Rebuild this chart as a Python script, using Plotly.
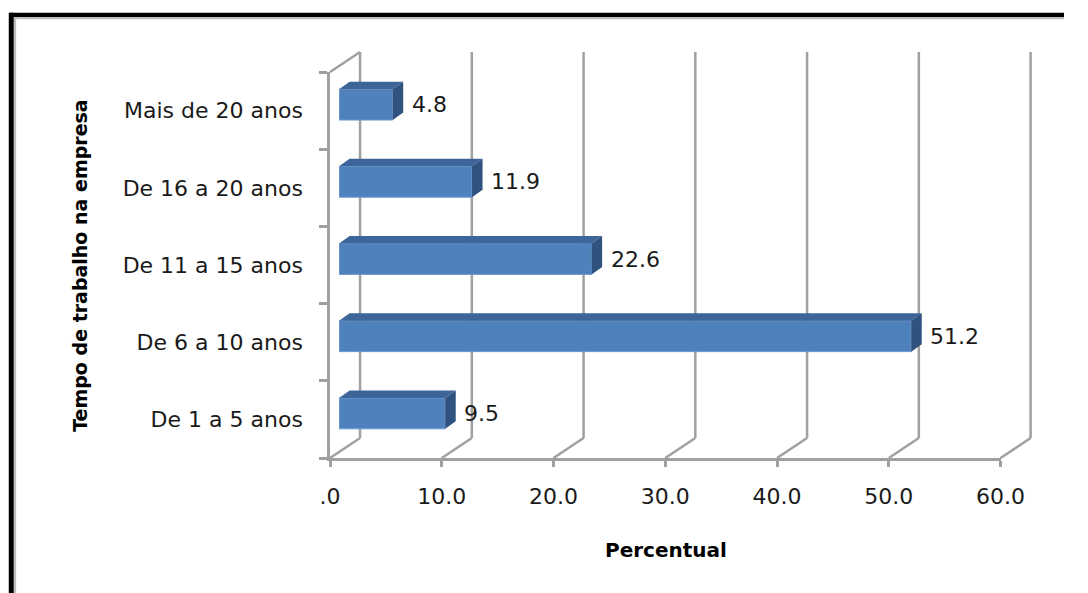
import plotly.graph_objects as go

categories = ["De 1 a 5 anos", "De 6 a 10 anos", "De 11 a 15 anos", "De 16 a 20 anos", "Mais de 20 anos"]
values = [9.5, 51.2, 22.6, 11.9, 4.8]
x_ticks = [0, 10, 20, 30, 40, 50, 60]
x_ticktext = [".0", "10.0", "20.0", "30.0", "40.0", "50.0", "60.0"]
x_title = "Percentual"
y_title = "Tempo de trabalho na empresa"

W, H = 1088, 593
FONT = "DejaVu Sans"
GRID = "#A0A0A0"
TXT = "#1a1a1a"

# horizontal calibration of the photographed page (picture x = OFFX + SCX * layout x)
OFFX, SCX = 10.2, 0.968

def px(t):
    return ((t - OFFX) / SCX) / W

def py(y):
    return 1 - y / H

# target geometry in picture pixels
X0, X1 = 330, 1000
Y0, Y1 = 72, 458
DEPTH_X, DEPTH_Y = 30, 20
BAR_DX, BAR_DY = 9, 6
FACE_DX, FACE_DY = 10.5, 7.5
n = len(categories)
xmax = 60
ux = (X1 - X0) / xmax
uy = (Y1 - Y0) / n
bar_w = 0.40

fig = go.Figure()
idx = list(range(n))
fig.add_trace(go.Bar(
    x=values, y=idx, orientation="h", width=bar_w,
    marker=dict(color="#4F81BD", line=dict(color="#6F9BD1", width=1)),
    xaxis="x3", yaxis="y3", showlegend=False, hoverinfo="skip"))

ddx = FACE_DX / ux
ddy = FACE_DY / uy
for i, v in zip(idx, values):
    top = i + bar_w / 2
    bot = i - bar_w / 2
    fig.add_trace(go.Scatter(
        x=[0, v, v + ddx, ddx, 0], y=[top, top, top + ddy, top + ddy, top],
        fill="toself", fillcolor="#3E6599", mode="lines", line=dict(width=0, color="#3E6599"),
        xaxis="x3", yaxis="y3", showlegend=False, hoverinfo="skip"))
    fig.add_trace(go.Scatter(
        x=[v, v + ddx, v + ddx, v, v], y=[bot, bot + ddy, top + ddy, top, bot],
        fill="toself", fillcolor="#30527F", mode="lines", line=dict(width=0, color="#30527F"),
        xaxis="x3", yaxis="y3", showlegend=False, hoverinfo="skip"))

fig.add_trace(go.Scatter(x=[None], y=[categories[0]], xaxis="x", yaxis="y",
                         showlegend=False, hoverinfo="skip"))

def xp(v, off=0):
    return px(X0 + v * ux + off)

shapes = []
for v in x_ticks:
    shapes.append(dict(type="line", xref="paper", yref="paper",
                       x0=xp(v, DEPTH_X), x1=xp(v, DEPTH_X),
                       y0=py(Y1 - DEPTH_Y), y1=py(Y0 - DEPTH_Y),
                       line=dict(color=GRID, width=2.5), layer="below"))
    shapes.append(dict(type="line", xref="paper", yref="paper",
                       x0=xp(v), x1=xp(v, DEPTH_X),
                       y0=py(Y1), y1=py(Y1 - DEPTH_Y),
                       line=dict(color=GRID, width=2.5), layer="below"))
shapes.append(dict(type="line", xref="paper", yref="paper",
                   x0=xp(0), x1=xp(0, DEPTH_X),
                   y0=py(Y0), y1=py(Y0 - DEPTH_Y),
                   line=dict(color=GRID, width=2.5), layer="below"))
# frame: black outer line + grey inner line (top and left only)
shapes.append(dict(type="line", xref="paper", yref="paper", x0=0, x1=1.0,
                   y0=py(15), y1=py(15), line=dict(color="black", width=4.5)))
shapes.append(dict(type="line", xref="paper", yref="paper", x0=0.0012, x1=0.0012,
                   y0=py(12.8), y1=0, line=dict(color="black", width=5)))
shapes.append(dict(type="line", xref="paper", yref="paper", x0=px(15), x1=1.0,
                   y0=py(18.3), y1=py(18.3), line=dict(color="#BDBDBD", width=2)))
shapes.append(dict(type="line", xref="paper", yref="paper", x0=px(15.3), x1=px(15.3),
                   y0=py(18), y1=0, line=dict(color="#BDBDBD", width=2)))

annotations = []
for i, v in zip(idx, values):
    annotations.append(dict(x=v, y=i, xref="x3", yref="y3", text=f"{v:.1f}",
                            showarrow=False, xanchor="left", yanchor="middle",
                            xshift=(FACE_DX + 6) / SCX, font=dict(family=FONT, size=22, color=TXT)))
annotations.append(dict(x=px(666), y=py(550), xref="paper", yref="paper", text=f"<b>{x_title}</b>",
                        showarrow=False, xanchor="center", yanchor="middle",
                        font=dict(family=FONT, size=20, color="black")))
annotations.append(dict(x=px(80), y=py(265), xref="paper", yref="paper", text=f"<b>{y_title}</b>",
                        showarrow=False, xanchor="center", yanchor="middle", textangle=-90,
                        font=dict(family=FONT, size=19, color="black")))

fig.update_layout(
    width=W, height=H, autosize=False, margin=dict(l=0, r=0, t=0, b=0),
    paper_bgcolor="white", plot_bgcolor="rgba(0,0,0,0)",
    xaxis=dict(domain=[px(X0), px(X1)], range=[0, xmax], tickvals=x_ticks, ticktext=x_ticktext,
               showline=True, linecolor=GRID, linewidth=2.5, ticks="outside", ticklen=6,
               tickwidth=2.5, tickcolor=GRID, showgrid=False, zeroline=False,
               ticklabelstandoff=11, tickfont=dict(family=FONT, size=22, color=TXT),
               anchor="y", fixedrange=True),
    yaxis=dict(domain=[py(Y1), py(Y0)], type="category", categoryorder="array",
               categoryarray=categories, range=[-0.5, n - 0.5], tickson="boundaries",
               tickmode="array", tickvals=categories,
               showline=True, linecolor=GRID, linewidth=2.5, ticks="outside", ticklen=8,
               tickwidth=2.5, tickcolor=GRID, showgrid=False, zeroline=False,
               ticklabelstandoff=20, tickfont=dict(family=FONT, size=22, color=TXT),
               anchor="x", fixedrange=True),
    xaxis3=dict(domain=[px(X0 + BAR_DX), px(X1 + BAR_DX)], range=[0, xmax], visible=False,
                anchor="y3", fixedrange=True),
    yaxis3=dict(domain=[py(Y1 - BAR_DY), py(Y0 - BAR_DY)], range=[-0.5, n - 0.5], visible=False,
                anchor="x3", fixedrange=True),
    shapes=shapes, annotations=annotations, showlegend=False,
)

fig.write_html("out.html", config={"responsive": False})
